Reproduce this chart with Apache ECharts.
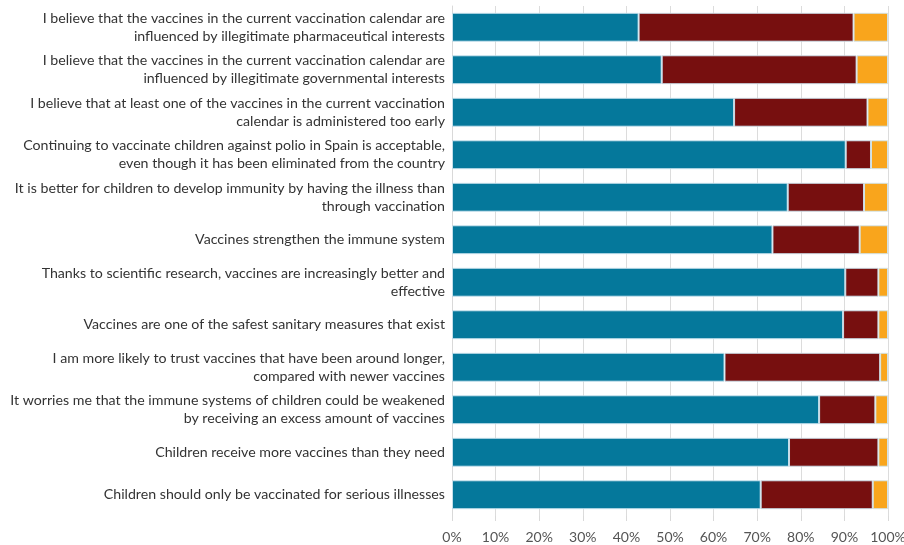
<!DOCTYPE html>
<html>
<head>
<meta charset="utf-8">
<script src="https://cdn.jsdelivr.net/npm/echarts@6/dist/echarts.min.js"></script>
<style>html,body{margin:0;padding:0;background:#fff;}#c{width:904px;height:545px;}</style>
</head>
<body>
<div id="c"></div>
<script>
const categories = [
  "I believe that the vaccines in the current vaccination calendar are\ninfluenced by illegitimate pharmaceutical interests",
  "I believe that the vaccines in the current vaccination calendar are\ninfluenced by illegitimate governmental interests",
  "I believe that at least one of the vaccines in the current vaccination\ncalendar is administered too early",
  "Continuing to vaccinate children against polio in Spain is acceptable,\neven though it has been eliminated from the country",
  "It is better for children to develop immunity by having the illness than\nthrough vaccination",
  "Vaccines strengthen the immune system",
  "Thanks to scientific research, vaccines are increasingly better and\neffective",
  "Vaccines are one of the safest sanitary measures that exist",
  "I am more likely to trust vaccines that have been around longer,\ncompared with newer vaccines",
  "It worries me that the immune systems of children could be weakened\nby receiving an excess amount of vaccines",
  "Children receive more vaccines than they need",
  "Children should only be vaccinated for serious illnesses"
];
const seriesA = [42.8, 48.1, 64.7, 90.3, 77.0, 73.5, 90.2, 89.7, 62.5, 84.2, 77.3, 70.8];
const seriesB = [49.3, 44.7, 30.6, 5.8, 17.5, 20.0, 7.6, 8.1, 35.7, 12.9, 20.5, 25.7];
const seriesC = [7.9, 7.2, 4.7, 3.9, 5.5, 6.5, 2.2, 2.2, 1.8, 2.9, 2.2, 3.5];
const tickLabels = ["0%","10%","20%","30%","40%","50%","60%","70%","80%","90%","100%"];

const chart = echarts.init(document.getElementById('c'), null, {renderer:'canvas'});
const barStyle = c => ({color: c, borderColor: 'rgba(205,228,240,0.9)', borderWidth: 1});
chart.setOption({
  animation: false,
  backgroundColor: '#ffffff',
  grid: {left: 452, right: 16, top: 6, bottom: 29, containLabel: false, outerBoundsMode: 'none'},
  xAxis: {
    type: 'value', min: 0, max: 100, interval: 10,
    axisLine: {show: false},
    axisTick: {show: true, length: 5, lineStyle: {color: '#d9d9d9'}},
    splitLine: {show: true, lineStyle: {color: '#dcdcdc', width: 1}},
    axisLabel: {
      formatter: v => tickLabels[v / 10],
      color: '#555', fontFamily: 'Lato', fontSize: 14, margin: 14
    }
  },
  yAxis: {
    type: 'category', data: categories, inverse: true,
    axisLine: {show: true, lineStyle: {color: '#d9d9d9'}},
    axisTick: {show: false},
    axisLabel: {
      color: '#333', fontFamily: 'Lato', fontSize: 14.2, lineHeight: 18,
      align: 'right', margin: 7
    }
  },
  series: [
    {type: 'bar', stack: 's', data: seriesA, barCategoryGap: '32%', itemStyle: barStyle('#05789b')},
    {type: 'bar', stack: 's', data: seriesB, itemStyle: barStyle('#770f0f')},
    {type: 'bar', stack: 's', data: seriesC, itemStyle: barStyle('#f9a51c')}
  ]
});
</script>
</body>
</html>
